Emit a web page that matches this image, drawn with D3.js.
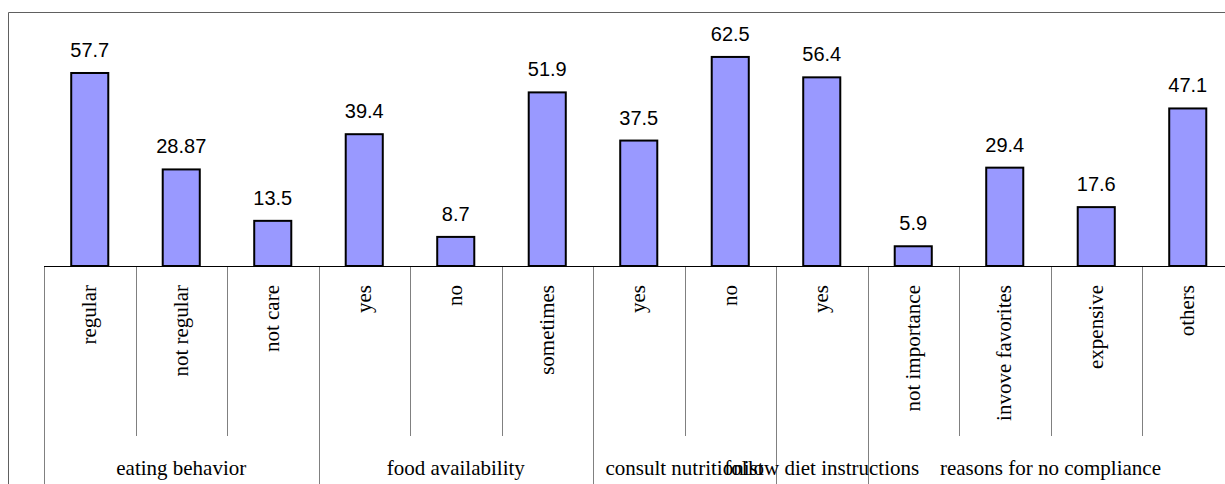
<!DOCTYPE html>
<html>
<head>
<meta charset="utf-8">
<script src="https://cdn.jsdelivr.net/npm/d3@7"></script>
<style>
  html, body { margin: 0; padding: 0; background: #fff; overflow: hidden; }
  svg { display: block; }
</style>
</head>
<body>
<svg id="chart" width="1225" height="484"></svg>
<script>
// Survey answers (percent), grouped by question
const groups = ["eating behavior", "food availability", "consult nutritionist", "follow diet instructions", "reasons for no compliance"];
const groupSizes = [3, 3, 2, 1, 4];
const categories = ["regular", "not regular", "not care", "yes", "no", "sometimes", "yes", "no", "yes", "not importance", "invove favorites", "expensive", "others"];
const values = [57.7, 28.87, 13.5, 39.4, 8.7, 51.9, 37.5, 62.5, 56.4, 5.9, 29.4, 17.6, 47.1];

const svg = d3.select("#chart");

const plotLeft = 44, plotRight = 1233.5, baseY = 266;
const x = d3.scaleBand()
  .domain(d3.range(categories.length))
  .range([plotLeft, plotRight])
  .paddingInner(0).paddingOuter(0);
const y = d3.scaleLinear().domain([0, 70]).range([baseY, baseY - 70 * 3.345]);

const barW = x.bandwidth() * 0.405;

// outer frame (left and top edges visible)
svg.append("path")
  .attr("d", `M8.5,${484} V12.5 H1225`)
  .attr("fill", "none")
  .attr("stroke", "#606060")
  .attr("stroke-width", 1);

// bars
svg.append("g").selectAll("rect")
  .data(values)
  .join("rect")
  .attr("x", (d, i) => x(i) + (x.bandwidth() - barW) / 2)
  .attr("y", d => y(d))
  .attr("width", barW)
  .attr("height", d => y(0) - y(d))
  .attr("fill", "#9999ff")
  .attr("stroke", "#000")
  .attr("stroke-width", 2);

// value labels
svg.append("g").selectAll("text")
  .data(values)
  .join("text")
  .attr("x", (d, i) => x(i) + x.bandwidth() / 2)
  .attr("y", d => y(d) - 16)
  .attr("text-anchor", "middle")
  .attr("font-family", "Liberation Sans, Arial, sans-serif")
  .attr("font-size", 20)
  .attr("fill", "#000")
  .text(d => String(d));

// group boundaries (in category index units)
const bounds = [0];
groupSizes.forEach(s => bounds.push(bounds[bounds.length - 1] + s));
const boundSet = new Set(bounds);

// category separators: short inside a group, long at group edges
const sepG = svg.append("g");
d3.range(categories.length + 1).forEach(i => {
  const xx = Math.round(plotLeft + i * x.step()) + 0.5;
  const isGroupEdge = boundSet.has(i);
  sepG.append("line")
    .attr("x1", xx).attr("x2", xx)
    .attr("y1", baseY).attr("y2", isGroupEdge ? 490 : 436)
    .attr("stroke", "#808080")
    .attr("stroke-width", 1);
});

// category axis line
svg.append("line")
  .attr("x1", plotLeft).attr("x2", 1225)
  .attr("y1", baseY + 0.5).attr("y2", baseY + 0.5)
  .attr("stroke", "#000")
  .attr("stroke-width", 1);

// rotated category labels
svg.append("g").selectAll("text")
  .data(categories)
  .join("text")
  .attr("transform", (d, i) => `translate(${x(i) + x.bandwidth() / 2},285) rotate(-90)`)
  .attr("text-anchor", "end")
  .attr("dy", "0.32em")
  .attr("font-family", "Liberation Serif, Times New Roman, serif")
  .attr("font-size", 21)
  .attr("fill", "#000")
  .text(d => d);

// group labels
svg.append("g").selectAll("text")
  .data(groups)
  .join("text")
  .attr("x", (d, i) => plotLeft + (bounds[i] + bounds[i + 1]) / 2 * x.step())
  .attr("y", 475)
  .attr("text-anchor", "middle")
  .attr("font-family", "Liberation Serif, Times New Roman, serif")
  .attr("font-size", 21)
  .attr("fill", "#000")
  .text(d => d);
</script>
</body>
</html>
